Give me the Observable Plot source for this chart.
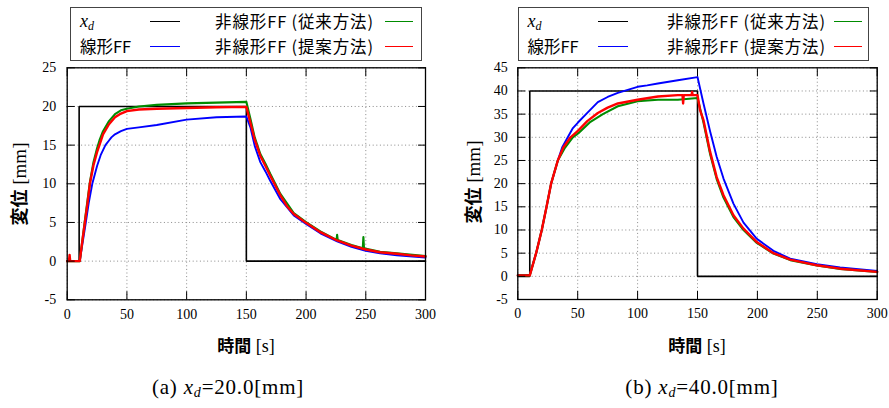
<!DOCTYPE html>
<html>
<head>
<meta charset="utf-8">
<script src="https://cdn.jsdelivr.net/npm/d3@7"></script>
<script src="https://cdn.jsdelivr.net/npm/@observablehq/plot@0.6"></script>
<style>
  html, body { margin: 0; padding: 0; background: #fff; }
  #root { position: relative; width: 889px; height: 408px; overflow: hidden; background: #fff; }
  .abs { position: absolute; white-space: nowrap; line-height: 1; }
  .jp { font-family: "Noto Sans CJK JP", sans-serif; }
  .serif { font-family: "Liberation Serif", "Times New Roman", serif; }
  .legbox { position: absolute; border: 1px solid #444; box-sizing: border-box; }
  .sw { position: absolute; height: 2px; }
</style>
</head>
<body>
<div id="root"></div>
<script>
// ---------- data ----------
const xTicks = [0, 50, 100, 150, 200, 250, 300];
const yTicksA = [-5, 0, 5, 10, 15, 20, 25];
const yTicksB = [-5, 0, 5, 10, 15, 20, 25, 30, 35, 40, 45];

const seriesNames = ["x_d", "線形FF", "非線形FF(従来方法)", "非線形FF(提案方法)"];
const seriesColors = ["#000000", "#0000ff", "#008c00", "#ff0000"];

// (a) x_d = 20.0 mm
const refTimeA = [0, 10, 10, 150, 150, 300];
const refValA  = [0, 0, 20, 20, 0, 0];

const linTimeA = [0, 10.5, 12, 15.6, 18, 21, 25, 28, 32, 35, 37, 40, 45, 50, 60, 75, 100, 125, 150, 153.4, 157, 161.7, 166, 170, 178.5, 189.7, 200, 212, 226, 238, 250, 262, 276, 300];
const linValA  = [0, 0, 1.5, 5, 7.5, 10, 12.3, 13.7, 15.0, 15.6, 16.0, 16.4, 16.8, 17.1, 17.3, 17.6, 18.3, 18.6, 18.7, 17.3, 14.9, 12.8, 11.6, 10.4, 8.0, 5.9, 4.8, 3.6, 2.55, 1.85, 1.33, 1.0, 0.75, 0.45];

const convTimeA = [0, 10.5, 12, 14.6, 19, 22, 25, 27, 30, 35, 40, 45, 50, 60, 75, 100, 125, 150, 153.4, 157, 161.7, 166, 170, 178.5, 189.7, 200, 212, 225.5, 226, 226.5, 238, 247.5, 248, 248.5, 262, 276, 300];
const convValA  = [0, 0, 1.8, 5, 10.2, 12.8, 14.6, 15.6, 16.8, 18.1, 19.0, 19.5, 19.7, 20.0, 20.2, 20.4, 20.5, 20.6, 18.4, 16.0, 13.85, 12.6, 11.3, 8.7, 6.2, 5.05, 3.85, 2.75, 3.4, 2.75, 2.1, 1.65, 3.1, 1.65, 1.2, 1.0, 0.65];

const propTimeA = [0, 1.5, 2, 2.5, 10.5, 12, 14.8, 17, 19, 22, 25, 27.4, 30, 35, 40, 44, 50, 60, 75, 100, 125, 150, 153.4, 157, 161.7, 166, 170, 178.5, 184, 189.7, 200, 212, 226, 238, 250, 262, 276, 288, 300];
const propValA  = [0, 0, 0.8, 0, 0, 1.8, 5, 7.5, 10, 12.4, 14.1, 15.2, 16.4, 17.7, 18.6, 19.0, 19.4, 19.6, 19.7, 19.8, 19.9, 19.95, 17.9, 15.7, 13.6, 12.3, 11.05, 8.5, 7.1, 6.1, 4.95, 3.75, 2.67, 2.0, 1.5, 1.15, 0.95, 0.75, 0.6];

// (b) x_d = 40.0 mm
const refTimeB = [0, 10, 10, 150, 150, 300];
const refValB  = [0, 0, 40, 40, 0, 0];

const linTimeB = [0, 10, 15.3, 20, 24, 27.8, 33.4, 37, 41.7, 46, 50.6, 57, 66.8, 75, 83.5, 100, 108, 116.9, 133.6, 150, 155, 160.6, 166, 171.7, 180, 188.4, 199.5, 213.4, 227.4, 249.6, 269, 300];
const linValB  = [0.3, 0.3, 5, 10, 15, 20, 25, 27.8, 30, 32, 33.3, 35, 37.6, 38.7, 39.6, 40.9, 41.2, 41.6, 42.3, 43.0, 37.3, 31.2, 25.8, 21.1, 15.7, 11.6, 8.1, 5.5, 3.8, 2.6, 1.9, 1.15];

const convTimeB = [0, 10, 15.3, 20, 24, 27.8, 33.4, 39, 45.9, 50.6, 60, 71, 83.5, 100, 117, 133.6, 150, 155, 160.6, 166, 171.7, 180, 188.4, 199.5, 213.4, 227.4, 249.6, 269, 300];
const convValB  = [0.2, 0.2, 5, 10, 15, 20, 25, 27.6, 30, 30.9, 33.2, 35, 36.7, 37.8, 38.1, 38.1, 38.5, 33.2, 26.3, 21.0, 17.0, 12.8, 10.0, 7.2, 4.9, 3.5, 2.35, 1.6, 0.95];

const propTimeB = [0, 10, 15.3, 20, 24, 27.8, 33.4, 38, 44, 50.6, 58, 66.8, 75, 83.5, 100, 117, 133.6, 137.5, 138, 138.5, 145, 145.5, 146, 150, 152.2, 155, 160.6, 166, 171.7, 180, 188.4, 199.5, 213.4, 227.4, 240, 249.6, 269, 300];
const propValB  = [0.2, 0.2, 5, 10, 15, 20, 25, 27.8, 30, 31.5, 33.5, 35.25, 36.4, 37.3, 38.1, 38.8, 39.1, 39.1, 37.3, 39.1, 39.1, 39.8, 39.1, 39.1, 35.8, 33.7, 26.8, 21.4, 17.5, 13.2, 10.3, 7.4, 5.0, 3.6, 2.9, 2.4, 1.65, 0.95];

const axisLabelX = ["時間", "[s]"];
const axisLabelY = ["変位", "[mm]"];

// ---------- helpers ----------
const zip = (ts, vs) => ts.map((t, i) => ({t, v: vs[i]}));
const SERIF = "'Liberation Serif', 'Times New Roman', serif";

function makePlot(o) {
  const series = [
    {d: zip(o.lin[0], o.lin[1]), c: seriesColors[1], w: 1.9},
    {d: zip(o.conv[0], o.conv[1]), c: seriesColors[2], w: 2.1},
    {d: zip(o.prop[0], o.prop[1]), c: seriesColors[3], w: 2.4}
  ];
  const svg = Plot.plot({
    width: o.width, height: 360,
    marginLeft: o.ml, marginRight: o.mr, marginTop: o.mt, marginBottom: o.mb,
    style: {background: "transparent", color: "#000", overflow: "visible"},
    x: {domain: [0, 300]},
    y: {domain: o.ydomain},
    marks: [
      Plot.gridX(xTicks, {stroke: "#8a8a8a", strokeOpacity: 1, strokeDasharray: "1,2.6", strokeWidth: 1}),
      Plot.gridY(o.yTicks, {stroke: "#8a8a8a", strokeOpacity: 1, strokeDasharray: "1,2.6", strokeWidth: 1}),
      Plot.line(zip(o.ref[0], o.ref[1]), {x: "t", y: "v", stroke: seriesColors[0], strokeWidth: 1.6, strokeLinejoin: "miter"}),
      ...series.map(s => Plot.line(s.d, {x: "t", y: "v", stroke: s.c, strokeWidth: s.w})),
      Plot.frame({stroke: "#000", strokeWidth: 1.3}),
      // inward tick marks on all four sides
      Plot.axisX(xTicks, {anchor: "bottom", tickSize: 8, dy: -8, fill: "none", label: null, tickFormat: () => ""}),
      Plot.axisX(xTicks, {anchor: "top", tickSize: 8, dy: 8, fill: "none", label: null, tickFormat: () => ""}),
      Plot.axisY(o.yTicks, {anchor: "left", tickSize: 8, dx: 8, fill: "none", label: null, tickFormat: () => ""}),
      Plot.axisY(o.yTicks, {anchor: "right", tickSize: 8, dx: -8, fill: "none", label: null, tickFormat: () => ""}),
      // tick labels
      Plot.axisX(xTicks, {anchor: "bottom", tickSize: 0, tickPadding: 9, label: null, fontSize: 14, tickFormat: d => String(d)}),
      Plot.axisY(o.yTicks, {anchor: "left", tickSize: 0, tickPadding: o.ypad, label: null, fontSize: 14, tickFormat: d => String(d)})
    ]
  });
  d3.select(svg).selectAll("text")
    .attr("font-family", SERIF)
    .style("font-family", SERIF)
    .style("font-size", "14px")
    .style("fill", "#000");
  svg.style.position = "absolute";
  svg.style.left = o.left + "px";
  svg.style.top = "0px";
  return svg;
}

const root = document.getElementById("root");

root.appendChild(makePlot({
  left: 0, width: 445, ml: 66.7, mr: 20, mt: 67.3, mb: 60.7, ypad: 11,
  ydomain: [-5, 25], yTicks: yTicksA,
  ref: [refTimeA, refValA], lin: [linTimeA, linValA], conv: [convTimeA, convValA], prop: [propTimeA, propValA]
}));
root.appendChild(makePlot({
  left: 445, width: 444, ml: 72.3, mr: 12.3, mt: 67.3, mb: 61, ypad: 10,
  ydomain: [-5, 45], yTicks: yTicksB,
  ref: [refTimeB, refValB], lin: [linTimeB, linValB], conv: [convTimeB, convValB], prop: [propTimeB, propValB]
}));

// ---------- legends, labels, captions (HTML) ----------
function el(html, css) {
  const d = document.createElement("div");
  d.className = "abs";
  d.innerHTML = html;
  Object.assign(d.style, css);
  root.appendChild(d);
  return d;
}

function legend(bx, by, bw, bh, x1, sw1, x2r, sw2) {
  const box = document.createElement("div");
  box.className = "legbox";
  Object.assign(box.style, {left: bx + "px", top: by + "px", width: bw + "px", height: bh + "px"});
  root.appendChild(box);
  const rows = [21.7, 46.7];
  // left column
  el('<span class="serif" style="font-style:italic;font-size:18px">x<sub style="font-size:12px;vertical-align:-3px">d</sub></span>',
     {left: x1 + "px", top: (rows[0] - 10) + "px"});
  el('<span class="jp" style="font-size:16.5px">' + seriesNames[1] + '</span>',
     {left: x1 + "px", top: (rows[1] - 9) + "px"});
  [[0, 0], [1, 1]].forEach(([r, k]) => {
    const s = document.createElement("div");
    s.className = "sw";
    Object.assign(s.style, {left: sw1 + "px", width: "30px", top: (rows[r] - 1) + "px", background: seriesColors[k], height: "1.6px"});
    root.appendChild(s);
  });
  // right column
  [[0, 2], [1, 3]].forEach(([r, k]) => {
    const name = seriesNames[k].replace("(", "\u2009(");
    el('<span class="jp" style="font-size:16.5px;letter-spacing:0.9px">' + name + '</span>',
       {right: (889 - x2r) + "px", top: (rows[r] - 9) + "px"});
    const s = document.createElement("div");
    s.className = "sw";
    Object.assign(s.style, {left: sw2 + "px", width: "28px", top: (rows[r] - 1) + "px", background: seriesColors[k], height: "1.6px"});
    root.appendChild(s);
  });
}
legend(70, 6.7, 352, 54.5, 80, 149.5, 374, 385);
legend(518.3, 6.7, 351, 54.5, 527.5, 598, 826, 833.5);

function xlabel(cx) {
  el('<span class="jp" style="font-size:17px;font-weight:700">' + axisLabelX[0] + '</span><span class="serif" style="font-size:18px"> ' + axisLabelX[1] + '</span>',
    {left: cx + "px", top: "345px", transform: "translate(-50%,-50%)"});
}
xlabel(246);
xlabel(697);

function ylabel(cx, cy) {
  el('<span class="jp" style="font-size:18px;font-weight:700">' + axisLabelY[0] + '</span><span class="serif" style="font-size:19px"> ' + axisLabelY[1] + '</span>',
    {left: cx + "px", top: cy + "px", transform: "translate(-50%,-50%) rotate(-90deg)"});
}
ylabel(19, 184);
ylabel(473, 182);

function caption(cx, letter, val) {
  el('<span class="serif" style="font-size:21px;letter-spacing:0.8px">(' + letter + ') <i>x</i><sub style="font-size:14px;vertical-align:-3px"><i>d</i></sub>=' + val + '[mm]</span>',
    {left: cx + "px", top: "388px", transform: "translate(-50%,-50%)"});
}
caption(228, "a", "20.0");
caption(702, "b", "40.0");
</script>
</body>
</html>
